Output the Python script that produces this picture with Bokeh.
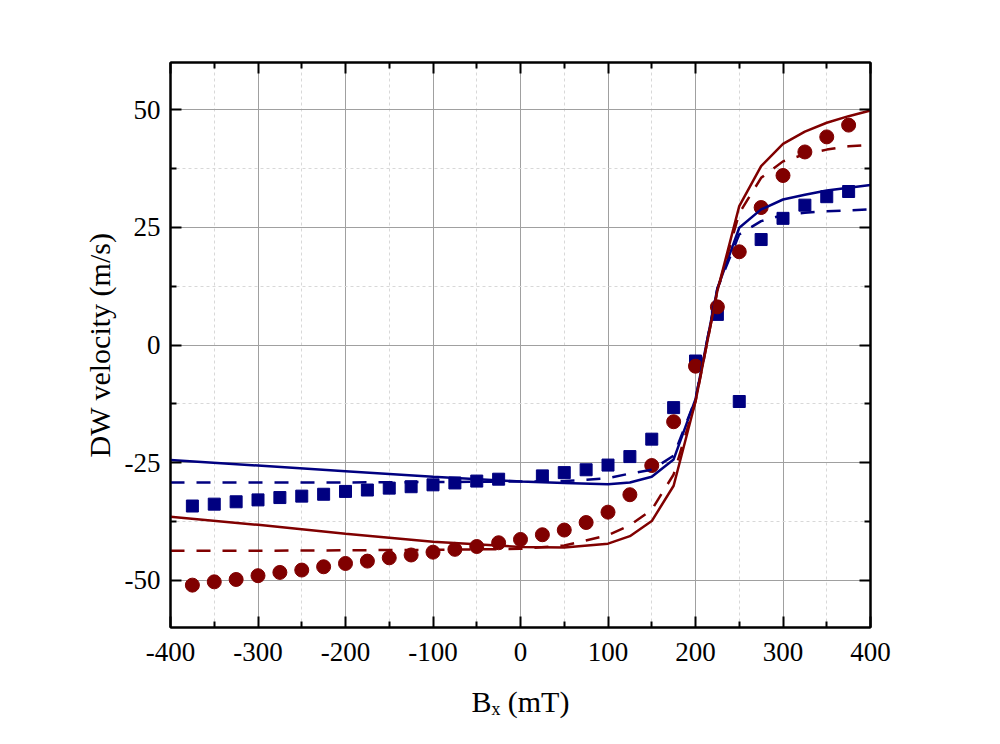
from bokeh.plotting import figure
from bokeh.models import (Range1d, FixedTicker, LinearAxis,
                          CustomJSTickFormatter)
from bokeh.embed import file_html
from bokeh.resources import INLINE

# ---- data ----
sq_x = [-375, -350, -325, -300, -275, -250, -225, -200, -175, -150, -125, -100,
        -75, -50, -25, 25, 50, 75, 100, 125, 150, 175, 200, 225, 250, 275, 300,
        325, 350, 375]
sq_y = [-34.2, -33.8, -33.3, -32.9, -32.4, -32.1, -31.7, -31.1, -30.8, -30.4,
        -30.1, -29.7, -29.3, -28.9, -28.5, -27.8, -27.1, -26.5, -25.5, -23.7,
        -20.0, -13.3, -3.4, 6.5, -12.0, 22.4, 26.9, 29.7, 31.5, 32.6]

ci_x = [-375, -350, -325, -300, -275, -250, -225, -200, -175, -150, -125, -100,
        -75, -50, -25, 0, 25, 50, 75, 100, 125, 150, 175, 200, 225, 250, 275,
        300, 325, 350, 375]
ci_y = [-51.0, -50.3, -49.8, -49.0, -48.3, -47.8, -47.1, -46.4, -45.9, -45.2,
        -44.6, -44.0, -43.4, -42.8, -42.0, -41.3, -40.3, -39.3, -37.7, -35.5,
        -31.8, -25.6, -16.3, -4.5, 8.1, 19.8, 29.2, 36.0, 41.0, 44.2, 46.7]

model_x = [-400, -300, -200, -100, 0, 50, 100, 125, 150, 175, 200, 225, 250,
           275, 300, 325, 350, 375, 400]
blue_solid = [-24.4, -25.6, -26.8, -28.0, -29.0, -29.3, -29.6, -29.2, -28.0,
              -24.3, -11.5, 12.0, 24.9, 28.8, 30.9, 31.9, 32.8, 33.4, 34.0]
blue_dash = [-29.2, -29.2, -29.2, -29.1, -29.0, -28.9, -28.3, -27.3, -26.5,
             -23.5, -11.5, 12.0, 23.5, 26.3, 27.6, 28.1, 28.4, 28.6, 28.8]
red_solid = [-36.5, -38.2, -40.1, -41.8, -42.9, -43.0, -42.2, -40.6, -37.4,
             -29.9, -12.0, 11.5, 29.5, 38.0, 42.7, 45.3, 47.2, 48.6, 49.8]
red_dash = [-43.7, -43.7, -43.6, -43.5, -43.3, -42.6, -40.4, -38.3, -35.0,
            -27.5, -12.0, 11.5, 28.0, 35.5, 39.0, 40.5, 41.5, 42.2, 42.5]

x_major = [-400, -300, -200, -100, 0, 100, 200, 300, 400]
x_minor = [-350, -250, -150, -50, 50, 150, 250, 350]
y_major = [-50, -25, 0, 25, 50]
y_minor = [-37.5, -12.5, 12.5, 37.5]

x_title = "B\u2093 (mT)"
y_title = "DW velocity (m/s)"

BLUE = "#000080"
RED = "#800000"
FONT = "Liberation Serif"

p = figure(width=984, height=728, output_backend="svg", toolbar_location=None,
           x_range=Range1d(-400, 400), y_range=Range1d(-60, 60),
           min_border_left=170, min_border_right=114, min_border_top=62,
           min_border_bottom=101)
p.background_fill_color = "white"
p.border_fill_color = "white"
p.outline_line_color = "black"
p.outline_line_width = 2

xt = FixedTicker(ticks=x_major, minor_ticks=x_minor)
yt = FixedTicker(ticks=y_major, minor_ticks=y_minor)
plain = CustomJSTickFormatter(code="return tick.toString()")

for ax, t in ((p.xaxis[0], xt), (p.yaxis[0], yt)):
    ax.ticker = t
    ax.formatter = plain
    ax.axis_line_width = 2
    ax.major_tick_in = 11
    ax.major_tick_out = 0
    ax.minor_tick_in = 6
    ax.minor_tick_out = 0
    ax.major_tick_line_width = 2
    ax.minor_tick_line_width = 2
    ax.major_label_text_font = FONT
    ax.major_label_text_font_size = "27px"
    ax.major_label_text_color = "black"
    ax.axis_label_text_font = FONT
    ax.axis_label_text_font_size = "30px"
    ax.axis_label_text_font_style = "normal"
    ax.axis_label_text_color = "black"

p.xaxis.major_label_standoff = 15
p.yaxis.major_label_standoff = 10
p.xaxis.axis_label = x_title
p.yaxis.axis_label = y_title
p.xaxis.axis_label_standoff = 21
p.yaxis.axis_label_standoff = 6

for side, t in (("above", xt), ("right", yt)):
    ax = LinearAxis(ticker=t, formatter=CustomJSTickFormatter(code="return ''"))
    ax.axis_line_width = 2
    ax.major_tick_in = 11
    ax.major_tick_out = 0
    ax.minor_tick_in = 6
    ax.minor_tick_out = 0
    ax.major_tick_line_width = 2
    ax.minor_tick_line_width = 2
    ax.major_label_standoff = 0
    p.add_layout(ax, side)

p.xgrid.ticker = xt
p.ygrid.ticker = yt
for g in (p.xgrid[0], p.ygrid[0]):
    g.grid_line_color = "#a0a0a0"
    g.grid_line_width = 1
    g.minor_grid_line_color = "#d8d8d8"
    g.minor_grid_line_dash = "3 3"
    g.minor_grid_line_width = 1

# markers
p.scatter(sq_x, sq_y, marker="square", size=12, color=BLUE)
p.scatter(ci_x, ci_y, marker="circle", size=14, color=RED)

# model lines
p.line(model_x, blue_solid, color=BLUE, line_width=2.5)
p.line(model_x, blue_dash, color=BLUE, line_width=2.5, line_dash="14 12")
p.line(model_x, red_solid, color=RED, line_width=2.5)
p.line(model_x, red_dash, color=RED, line_width=2.5, line_dash="14 12")

open("out.html", "w").write(file_html(p, INLINE))
